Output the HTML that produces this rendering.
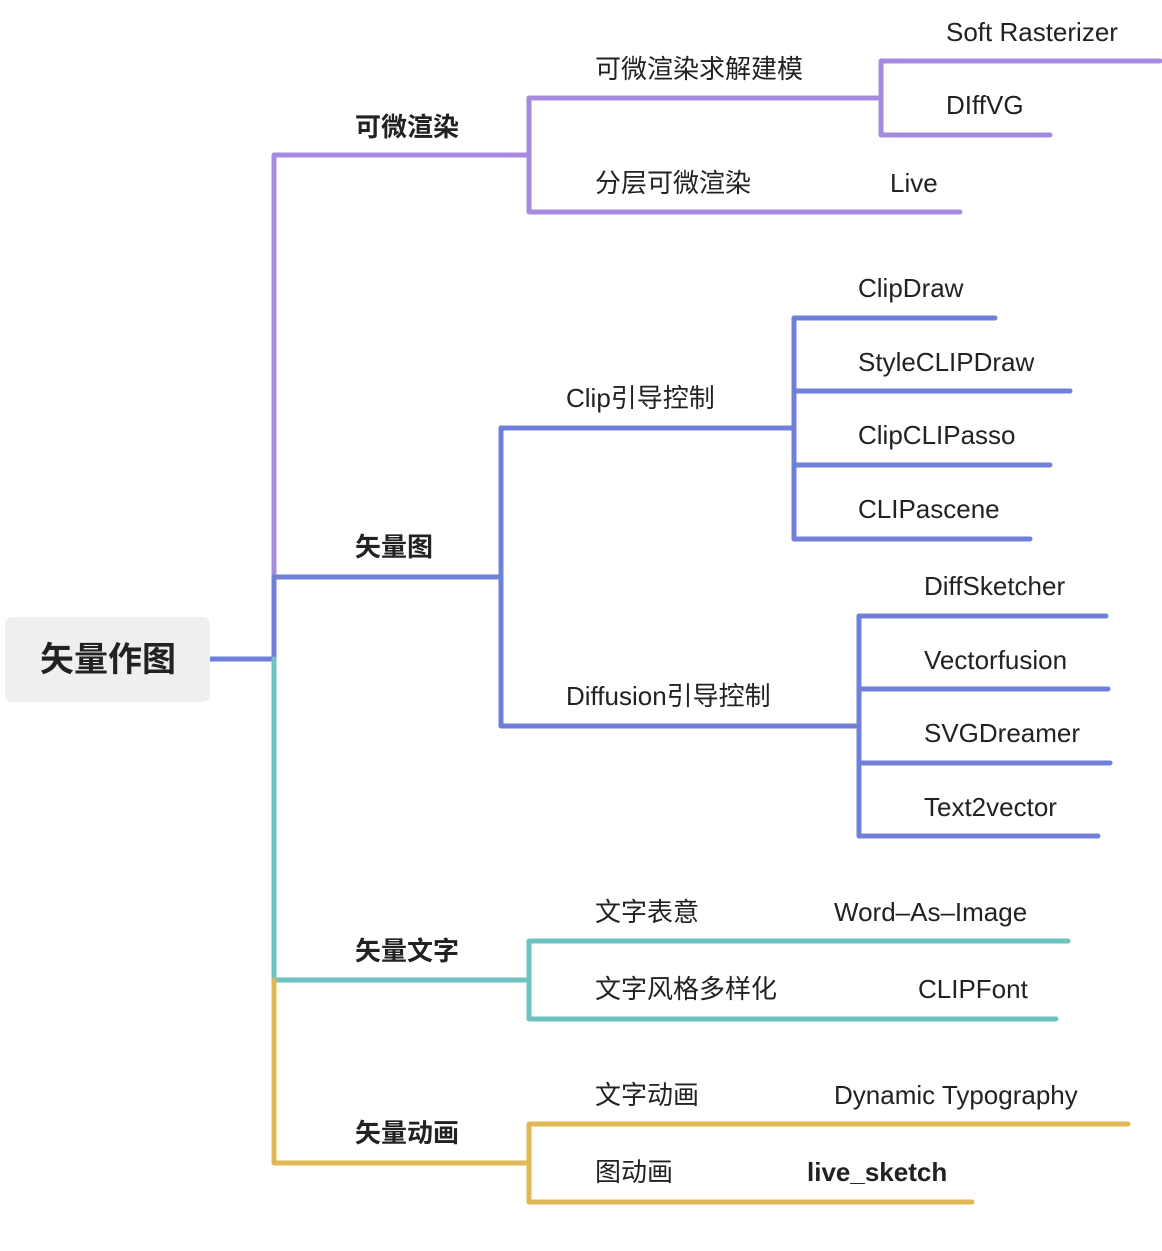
<!DOCTYPE html>
<html><head><meta charset="utf-8"><style>
html,body{margin:0;padding:0;background:#fff;}
svg text{font-family:"Liberation Sans","Noto Sans CJK SC",sans-serif;fill:#222;dominant-baseline:central;}
.l{font-size:26px;}
.b{font-size:26px;font-weight:bold;}
</style></head><body>
<svg width="1162" height="1246" viewBox="0 0 1162 1246" xmlns="http://www.w3.org/2000/svg">
<g fill="none" stroke-width="5" stroke-linecap="round" stroke-linejoin="round">
<g stroke="#a58be0">
<path d="M274 577 V155 H529"/>
<path d="M529 98 V212 H960"/>
<path d="M529 98 H881"/>
<path d="M1160 61 H881 V135 H1050"/>
</g>
<g stroke="#6f80db">
<path d="M210 659 H274 V577 H501"/>
<path d="M501 428 V726 H859"/>
<path d="M501 428 H794"/>
<path d="M995 318 H794 V539 H1030"/>
<path d="M794 391 H1070"/>
<path d="M794 465 H1050"/>
<path d="M1106 616 H859 V836 H1098"/>
<path d="M859 689 H1108"/>
<path d="M859 763 H1110"/>
</g>
<g stroke="#6cc3c0">
<path d="M274 659 V980 H529"/>
<path d="M1068 941 H529 V1019 H1056"/>
</g>
<g stroke="#dfb955">
<path d="M274 980 V1163 H529"/>
<path d="M1128 1124 H529 V1202 H972"/>
</g>
</g>
<rect x="5" y="617" width="205" height="85" rx="7" fill="#eef0f0"/>
<text x="108" y="660" text-anchor="middle" style="font-size:34px;font-weight:bold">矢量作图</text>
<text class="b" x="355" y="127">可微渲染</text>
<text class="b" x="355" y="547">矢量图</text>
<text class="b" x="355" y="951">矢量文字</text>
<text class="b" x="355" y="1133">矢量动画</text>
<text class="l" x="595" y="69">可微渲染求解建模</text>
<text class="l" x="595" y="183">分层可微渲染</text>
<text class="l" x="890" y="183">Live</text>
<text class="l" x="946" y="32">Soft Rasterizer</text>
<text class="l" x="946" y="105">DIffVG</text>
<text class="l" x="566" y="398">Clip引导控制</text>
<text class="l" x="566" y="696">Diffusion引导控制</text>
<text class="l" x="858" y="288">ClipDraw</text>
<text class="l" x="858" y="362">StyleCLIPDraw</text>
<text class="l" x="858" y="435">ClipCLIPasso</text>
<text class="l" x="858" y="509">CLIPascene</text>
<text class="l" x="924" y="586">DiffSketcher</text>
<text class="l" x="924" y="660">Vectorfusion</text>
<text class="l" x="924" y="733">SVGDreamer</text>
<text class="l" x="924" y="807">Text2vector</text>
<text class="l" x="595" y="912">文字表意</text>
<text class="l" x="834" y="912">Word–As–Image</text>
<text class="l" x="595" y="989">文字风格多样化</text>
<text class="l" x="918" y="989">CLIPFont</text>
<text class="l" x="595" y="1095">文字动画</text>
<text class="l" x="834" y="1095">Dynamic Typography</text>
<text class="l" x="595" y="1172">图动画</text>
<text class="b" x="807" y="1172">live_sketch</text>
</svg>
</body></html>
